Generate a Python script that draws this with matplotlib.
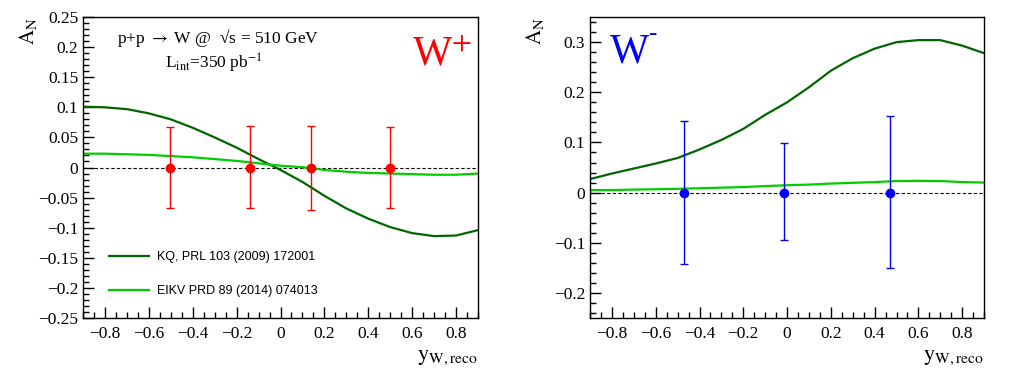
import matplotlib
matplotlib.use("Agg")
import matplotlib.pyplot as plt
from matplotlib.ticker import MultipleLocator, FuncFormatter

plt.rcParams['font.family'] = ['Liberation Serif', 'DejaVu Serif']
plt.rcParams['mathtext.fontset'] = 'stix'

# theory curves
y_grid = [-0.9, -0.8, -0.7, -0.6, -0.5, -0.4, -0.3, -0.2, -0.1, 0.0,
          0.1, 0.2, 0.3, 0.4, 0.5, 0.6, 0.7, 0.8, 0.9]
kq_wplus = [0.101, 0.100, 0.097, 0.090, 0.080, 0.066, 0.050, 0.033, 0.014, -0.004,
            -0.024, -0.047, -0.068, -0.085, -0.099, -0.109, -0.114, -0.113, -0.104]
eikv_wplus = [0.023, 0.023, 0.022, 0.021, 0.019, 0.017, 0.014, 0.011, 0.007, 0.003,
              0.0005, -0.004, -0.007, -0.009, -0.010, -0.011, -0.012, -0.012, -0.010]
kq_wminus = [0.027, 0.038, 0.048, 0.058, 0.069, 0.086, 0.105, 0.127, 0.155, 0.180,
             0.210, 0.243, 0.268, 0.287, 0.300, 0.304, 0.304, 0.293, 0.278]
eikv_wminus = [0.005, 0.005, 0.006, 0.0067, 0.0075, 0.0087, 0.0098, 0.011, 0.013, 0.0147,
               0.016, 0.018, 0.0195, 0.021, 0.023, 0.0235, 0.023, 0.021, 0.020]

# projected points
wp_x = [-0.504, -0.141, 0.137, 0.498]
wp_y = [0.0, 0.0, 0.0, 0.0]
wp_err_lo = [0.067, 0.068, 0.070, 0.067]
wp_err_hi = [0.068, 0.069, 0.069, 0.068]

wm_x = [-0.470, -0.012, 0.472]
wm_y = [0.0, 0.0, 0.0]
wm_err_lo = [0.142, 0.095, 0.151]
wm_err_hi = [0.143, 0.098, 0.152]

dark_green = '#006600'
light_green = '#00cc00'

fig = plt.figure(figsize=(10.14, 3.79), dpi=100)
ax1 = fig.add_axes([0.0819, 0.161, 0.3895, 0.794])
ax2 = fig.add_axes([0.5819, 0.161, 0.3886, 0.794])

tick_fmt = FuncFormatter(lambda v, p: ('%g' % round(v, 3)).replace('-', '\u2212'))


def style_axis(ax, ylo, yhi, ymaj, ymin):
    ax.set_xlim(-0.9, 0.9)
    ax.set_ylim(ylo, yhi)
    ax.xaxis.set_major_locator(MultipleLocator(0.2))
    ax.xaxis.set_minor_locator(MultipleLocator(0.05))
    ax.yaxis.set_major_locator(MultipleLocator(ymaj))
    ax.yaxis.set_minor_locator(MultipleLocator(ymin))
    ax.xaxis.set_major_formatter(tick_fmt)
    ax.yaxis.set_major_formatter(tick_fmt)
    ax.tick_params(which='both', direction='in', top=False, right=False, labelsize=12.5)
    ax.tick_params(which='major', length=8, width=1)
    ax.tick_params(which='minor', length=4, width=1)
    ax.tick_params(axis='x', pad=6)
    for sp in ax.spines.values():
        sp.set_linewidth(1)
    ax.axhline(0, color='black', lw=0.8, ls=(0, (3, 2)), zorder=1)
    ax.text(-0.14, 1.0, r'$\mathrm{A_N}$', rotation=90, transform=ax.transAxes,
            ha='center', va='top', fontsize=15)
    ax.text(1.0, -0.1, r'$\mathrm{y_{W,reco}}$', transform=ax.transAxes,
            ha='right', va='top', fontsize=16)


# left: W+
style_axis(ax1, -0.25, 0.25, 0.05, 0.01)
ax1.plot(y_grid, kq_wplus, color=dark_green, lw=1.6, label='KQ, PRL 103 (2009) 172001', zorder=2)
ax1.plot(y_grid, eikv_wplus, color=light_green, lw=1.6, label='EIKV PRD 89 (2014) 074013', zorder=2)
ax1.errorbar(wp_x, wp_y, yerr=[wp_err_lo, wp_err_hi], fmt='o', color='#ff0000',
             ms=6, elinewidth=1, capsize=3, capthick=1, zorder=3)
leg = ax1.legend(loc='lower left', bbox_to_anchor=(0.036, 0.032), frameon=False,
                 prop={'family': 'Liberation Sans', 'size': 9},
                 handlelength=3.2, handletextpad=0.7, labelspacing=1.75)
ax1.text(0.086, 0.93, 'p+p $\\rightarrow$ W @  \u221as = 510 GeV',
         transform=ax1.transAxes, ha='left', va='center', fontsize=12.5)
ax1.text(0.33, 0.845, r'L$_{\mathrm{int}}$=350 pb$^{\mathrm{-1}}$',
         transform=ax1.transAxes, ha='center', va='center', fontsize=12.5)
ax1.text(0.833, 0.84, r'W$^{+}$', transform=ax1.transAxes, ha='left', va='baseline',
         fontsize=30, color='#ff0000')

# right: W-
style_axis(ax2, -0.25, 0.35, 0.1, 0.02)
ax2.plot(y_grid, kq_wminus, color=dark_green, lw=1.6, zorder=2)
ax2.plot(y_grid, eikv_wminus, color=light_green, lw=1.6, zorder=2)
ax2.errorbar(wm_x, wm_y, yerr=[wm_err_lo, wm_err_hi], fmt='o', color='#0000ff',
             ms=6, elinewidth=1, capsize=3, capthick=1, zorder=3)
ax2.text(0.05, 0.85, 'W', transform=ax2.transAxes, ha='left', va='baseline',
         fontsize=30, color='#0000ff')
ax2.text(0.148, 0.925, '-', transform=ax2.transAxes, ha='left', va='baseline',
         fontsize=18, color='#0000ff')

fig.savefig('out.png', dpi=100)
